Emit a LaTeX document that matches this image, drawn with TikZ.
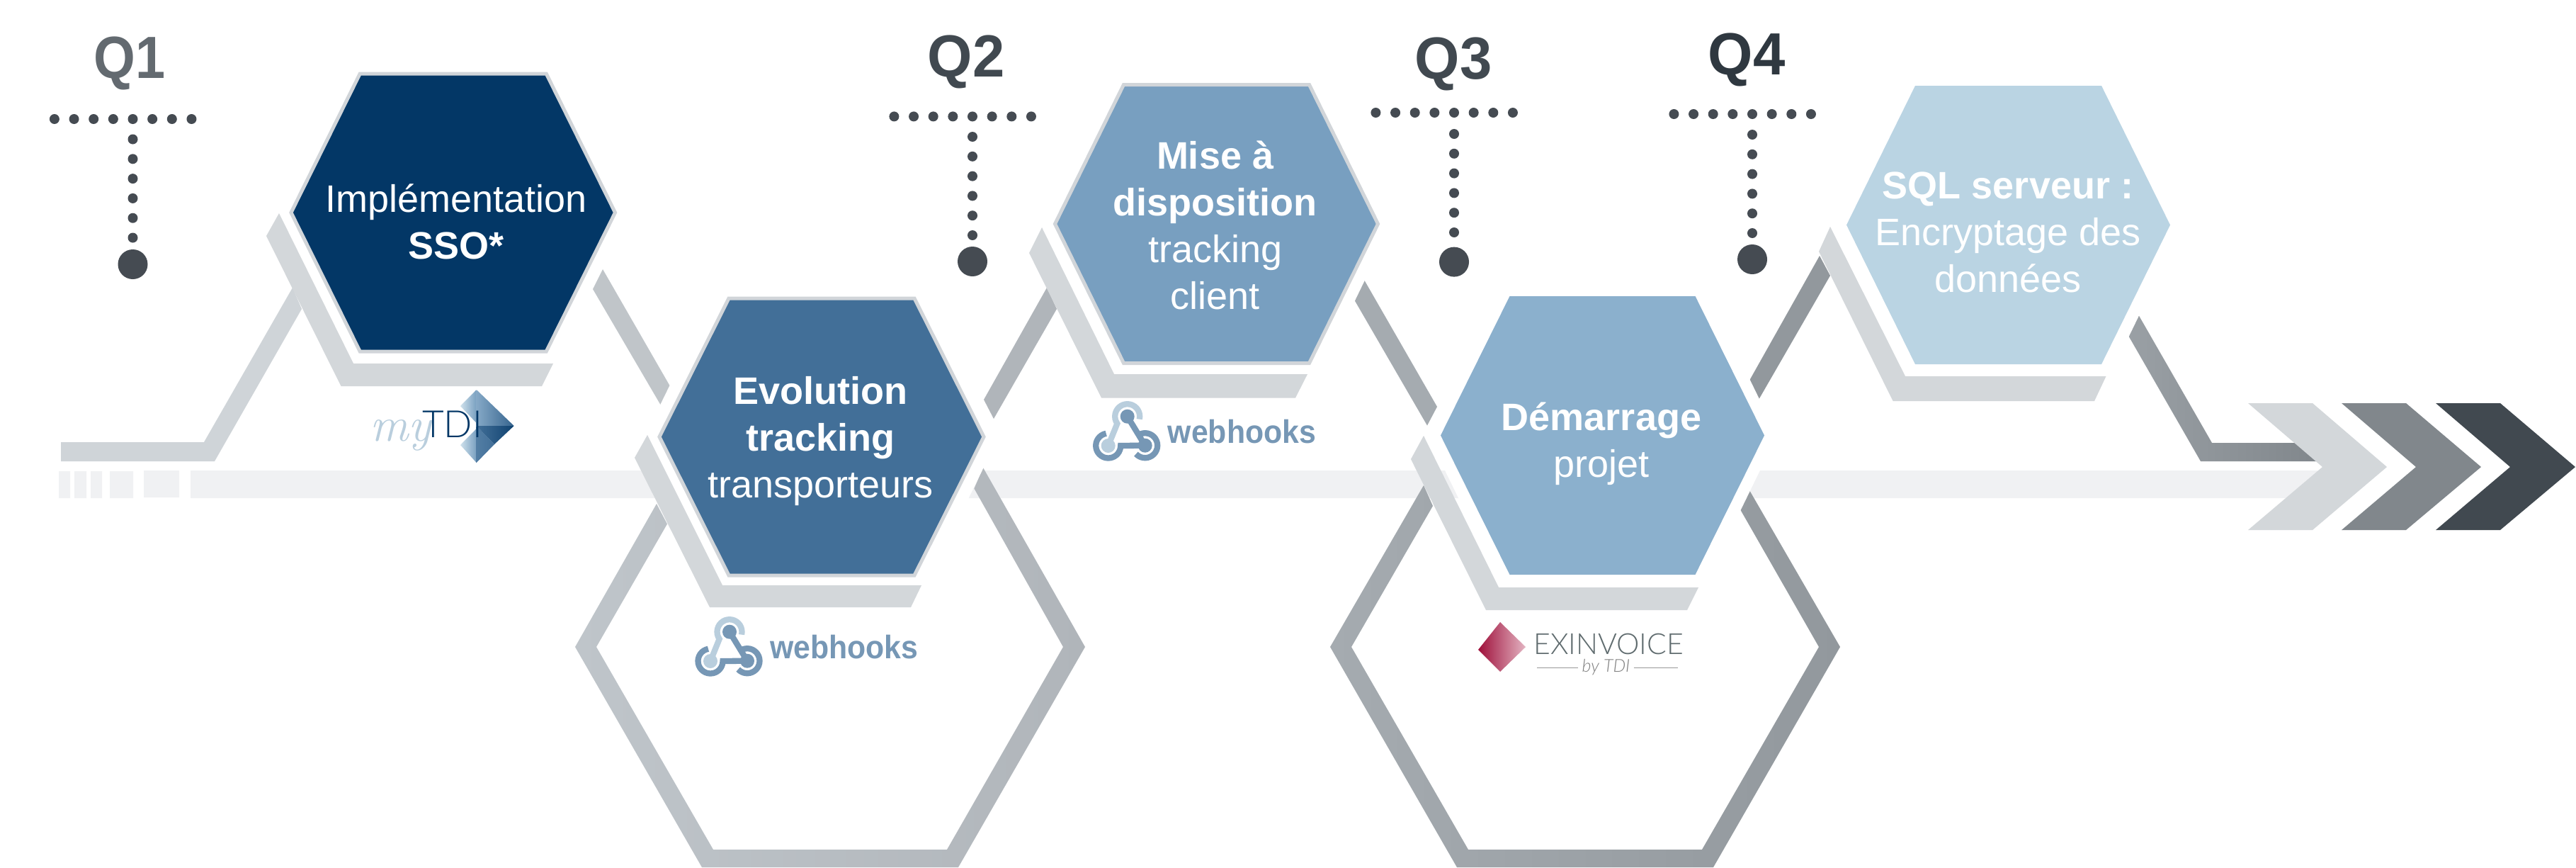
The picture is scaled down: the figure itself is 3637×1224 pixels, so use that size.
\documentclass[tikz,border=0pt]{standalone}
\usepackage{fontspec}
\setmainfont{Liberation Sans}
\newfontfamily\lightfont{Lato Light}
\newfontfamily\scriptish{Latin Modern Roman}
\definecolor{hexA}{HTML}{033766}
\definecolor{hexB}{HTML}{426F98}
\definecolor{hexC}{HTML}{789FC0}
\definecolor{hexD}{HTML}{8BB0CD}
\definecolor{hexE}{HTML}{BAD4E3}
\definecolor{rim}{HTML}{D1D5D9}
\definecolor{shadowgrey}{HTML}{D3D7DA}
\definecolor{barcol}{HTML}{F0F1F3}
\definecolor{dotcol}{HTML}{454B52}
\definecolor{whdark}{HTML}{7697B5}
\definecolor{whlight}{HTML}{B9CEDD}
\definecolor{exA}{HTML}{9F0F3A}
\definecolor{exB}{HTML}{B03A62}
\definecolor{exC}{HTML}{E3B4C2}
\definecolor{exT}{HTML}{5F6B6E}
\definecolor{trA}{HTML}{CFD4D8}
\definecolor{trB}{HTML}{C0C5C9}
\definecolor{trC}{HTML}{BFC5CA}
\definecolor{trD}{HTML}{B0B5BA}
\definecolor{trE}{HTML}{A5ABB0}
\definecolor{trF}{HTML}{92989D}
\definecolor{trG}{HTML}{9AA0A5}
\definecolor{trH}{HTML}{81878C}
\definecolor{qone}{HTML}{636A70}
\definecolor{qtwo}{HTML}{414950}
\definecolor{qfour}{HTML}{2F3840}
\tikzset{
  hextext/.style={text=white,align=center,anchor=base,inner sep=0pt,font=\fontsize{54}{66}\selectfont},
  qtext/.style={anchor=base,inner sep=0pt,font=\fontsize{84}{84}\selectfont\bfseries},
  smalldot/.style={circle,fill=dotcol,minimum size=14pt,inner sep=0pt},
  bigdot/.style={circle,fill=dotcol,minimum size=42pt,inner sep=0pt},
  whtext/.style={text=whdark,anchor=base west,inner sep=0pt,font=\fontsize{46}{46}\selectfont\bfseries},
}
\newcommand{\hexag}[6]{% options, cx, cy, tip half-width, top half-width, half-height
  \path[#1] (#2-#4,#3) -- (#2-#5,#3-#6) -- (#2+#5,#3-#6) -- (#2+#4,#3) -- (#2+#5,#3+#6) -- (#2-#5,#3+#6) -- cycle;}
\newcommand{\qmark}[8]{% name, label, colour, cx, hy, vy, bigy, text x/baseline
  \node[qtext,text=#3] (#1lab) at (#8) {#2};
  \foreach \i in {0,...,7} {\node[smalldot] at (#4-110.6+27.65*\i,#5) {};}
  \foreach \j in {0,...,5} {\node[smalldot] at (#4,#6+27.8*\j) {};}
  \node[bigdot] (#1end) at (#4,#7) {};}
\newcommand{\whlogo}[3]{% name, x, y of text baseline start
  \begin{scope}[shift={(#2,#3)},x=1pt,y=1pt,line width=8.3pt]
    \draw[whlight] (-55,37.3)+(-13:17.5) arc[start angle=-13,end angle=215,radius=17.5pt] -- (-82,-4);
    \fill[whlight] (-82,-4) circle (10pt);
    \draw[whdark] (-55,37.3) -- (-30,-3.7);
    \draw[whdark] (-82,-4)+(100:17.5) arc[start angle=100,end angle=360,radius=17.5pt] -- (-30,-3.7);
    \draw[whdark] (-30,-3.7)+(123:17.5) arc[start angle=123,end angle=-137,radius=17.5pt];
    \fill[whdark] (-55,37.3) circle (10pt) (-30,-3.7) circle (10pt);
    \node[whtext] (#1) at (-2,0) {\scalebox{0.93}[1]{webhooks}};
  \end{scope}}
\begin{document}
\begin{tikzpicture}[x=1pt,y=-1pt]
\useasboundingbox (0,0) rectangle (3637,1224);
\fill[white] (0,0) rectangle (3637,1224);
% axis bar
\fill[barcol] (83,665) rectangle (99,703) (105,665) rectangle (122,703) (128,665) rectangle (144,703)
  (155,665) rectangle (188,703) (203,664) rectangle (253,702) (269,664) rectangle (3300,703);
% tracks
\fill[trA] (86,624) -- (288,624) -- (413,406) -- (426,436) -- (303,651) -- (86,651) -- cycle;
\fill[trB] (851,380) -- (837,408) -- (933,572) -- (946,545) -- cycle;
\shade[left color=trC,right color=trD]
  (927,711) -- (942,739.5) -- (842,913) -- (1007,1199) -- (1337,1199) -- (1501,913) -- (1375.4,689.5) -- (1388,660)
  -- (1532,913) -- (1353,1224) -- (991,1224) -- (812,913) -- cycle;
\fill[trD] (1389,564) -- (1403,591) -- (1492,436) -- (1478,406) -- cycle;
\fill[trE] (1926,395) -- (1912,423) -- (2015,600.5) -- (2029,574) -- cycle;
\shade[left color=trE,right color=trF]
  (2010,685) -- (2023,714) -- (1908,913) -- (2073,1199) -- (2403,1199) -- (2568,913) -- (2457,719) -- (2470,692)
  -- (2598,913) -- (2419,1224) -- (2057,1224) -- (1878,913) -- cycle;
\fill[trF] (2470.5,536) -- (2483,564) -- (2584,389) -- (2569,361) -- cycle;
\shade[left color=trG,right color=trH]
  (3019,444) -- (3004,472) -- (3107,651) -- (3272,651) -- (3241,625) -- (3123,625) -- cycle;
% white halos
\hexag{fill=white}{639.75}{300}{249}{152}{200}
\hexag{fill=white}{1160}{616.5}{250}{152}{200}
\hexag{fill=white}{1717.5}{316}{248}{151}{200}
\hexag{fill=white}{2262.5}{614.5}{246.5}{149}{200}
\hexag{fill=white}{2835.5}{317.5}{246.5}{149.5}{200}
% hexagon shadows
\fill[shadowgrey] (394,301) -- (376,333) -- (481.5,545) -- (765,545) -- (781,513) -- (499,513) -- cycle;
\fill[shadowgrey] (914,614) -- (896,646) -- (1002,857) -- (1286,857) -- (1301,826) -- (1020,826) -- cycle;
\fill[shadowgrey] (1471,321) -- (1453,357) -- (1555,561.5) -- (1829,561.5) -- (1846,528) -- (1573,528) -- cycle;
\fill[shadowgrey] (2010,615) -- (1992,648) -- (2098,861) -- (2382,861) -- (2398,829) -- (2116,829) -- cycle;
\fill[shadowgrey] (2584,320) -- (2568,355) -- (2672.6,566) -- (2957,566) -- (2973.5,531) -- (2690,531) -- cycle;
% hexagons
\hexag{fill=hexA,draw=rim,line width=5pt}{639.75}{300}{228.75}{131.5}{196}
\hexag{fill=hexB,draw=rim,line width=5pt}{1160}{616.5}{229}{131}{195.5}
\hexag{fill=hexC,draw=rim,line width=5pt}{1717.5}{316}{228}{131}{196.5}
\hexag{fill=hexD}{2262.5}{614.5}{228.5}{131}{196.5}
\hexag{fill=hexE}{2835.5}{317.5}{228.5}{131.5}{196.5}
% hexagon texts
\node[hextext] (t1) at (644,365) {Implémentation\\\textbf{SSO*}};
\node[hextext] (t2) at (1158.6,702) {\textbf{Evolution}\\\textbf{tracking}\\transporteurs};
\node[hextext] (t3) at (1715.6,436) {\textbf{Mise à}\\\textbf{disposition}\\tracking\\client};
\node[hextext] (t4) at (2261,673) {\textbf{Démarrage}\\projet};
\node[hextext] (t5) at (2835,412) {\textbf{SQL serveur :}\\Encryptage des\\données};
% quarter markers
\qmark{qa}{\scalebox{0.9}[1]{Q1}}{qone}{187.5}{168}{196.5}{373}{183,110}
\qmark{qb}{\scalebox{0.97}[1]{Q2}}{qtwo}{1373}{164.4}{193}{369}{1364,108}
\qmark{qc}{\scalebox{0.97}[1]{Q3}}{qtwo}{2053}{159}{189}{369.6}{2052,111.5}
\qmark{qd}{\scalebox{0.97}[1]{Q4}}{qfour}{2474}{161}{190}{366}{2466,105}
% chevrons
\fill[shadowgrey] (3174,569) -- (3265,569) -- (3370,659) -- (3265,748) -- (3174,748) -- (3279,659) -- cycle;
\fill[trH] (3306,569) -- (3397,569) -- (3503,659) -- (3397,748) -- (3306,748) -- (3411,659) -- cycle;
\fill[qtwo] (3439,569) -- (3530,569) -- (3636,659) -- (3530,748) -- (3439,748) -- (3544,659) -- cycle;
% myTDI logo
\shade[left color=hexE!70!white,right color=hexC] (650,573) -- (672.7,550) -- (672.7,597) -- cycle;
\shade[left color=hexE!70!white,right color=hexC] (650,628) -- (672.7,605) -- (672.7,653) -- cycle;
\shade[left color=hexC!90!white,right color=hexB!80!hexA] (672.7,550) -- (725.7,601) -- (672.7,601) -- cycle;
\shade[left color=hexB!70!hexC,right color=hexB] (672.7,601) -- (698,627) -- (672.7,653) -- cycle;
\shade[left color=hexB,right color=hexA!80!hexB] (672.7,601) -- (725.7,601) -- (698,627) -- cycle;
\node[anchor=base west,inner sep=0pt,text=whlight,font=\scriptish\itshape\fontsize{68}{68}\selectfont] (my) at (522,622) {my};
\node[anchor=base west,inner sep=0pt,text=hexA,font=\lightfont\fontsize{53}{53}\selectfont] (tdi) at (596,617) {TDI};
% webhooks logos
\whlogo{wha}{1085}{929}
\whlogo{whb}{1646.7}{625}
% EXINVOICE logo
\shade[left color=exA,middle color=exB,right color=exC]
  (2118,878) -- (2154,913) -- (2118,948) -- (2087,917) -- cycle;
\node[anchor=base west,inner sep=0pt,text=exT,font=\lightfont\fontsize{41}{41}\selectfont] (exi) at (2165,923) {EXINVOICE};
\node[anchor=base,inner sep=0pt,text=gray,font=\lightfont\itshape\fontsize{25}{25}\selectfont] (byt) at (2267.5,948) {by TDI};
\coordinate (la) at (2170,942.7);
\coordinate (lb) at (2369,942.7);
\draw[gray!80,line width=1.5pt] (la) -- ([xshift=-5pt]la -| byt.west) ([xshift=5pt]lb -| byt.east) -- (lb);
\end{tikzpicture}
\end{document}
